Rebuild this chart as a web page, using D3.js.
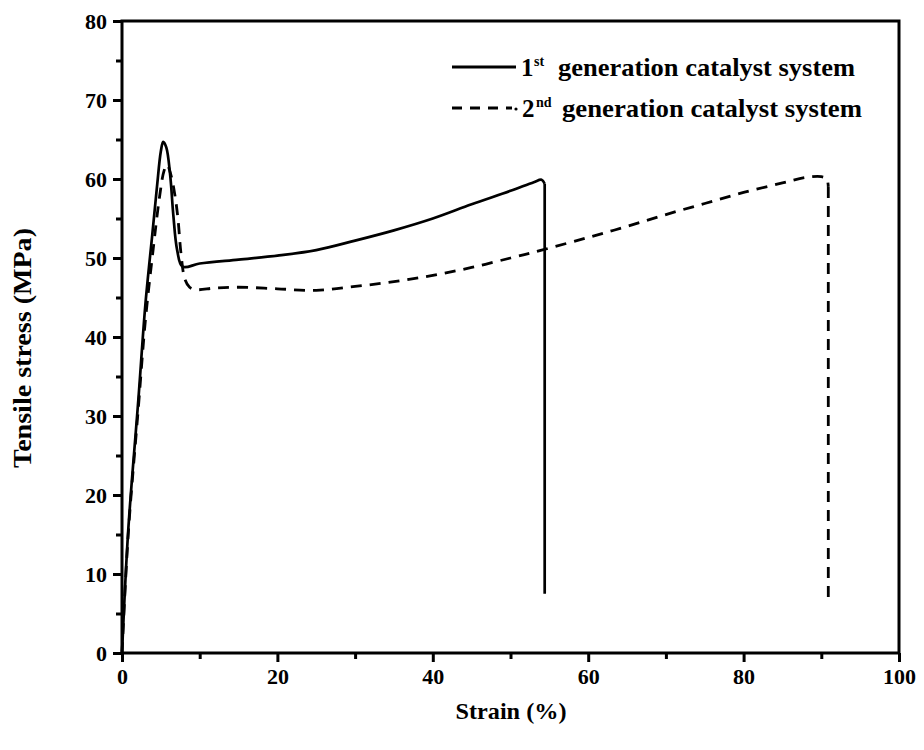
<!DOCTYPE html>
<html>
<head>
<meta charset="utf-8">
<script src="https://cdn.jsdelivr.net/npm/d3@7"></script>
<style>
  body { margin: 0; background: #fff; }
  text, tspan { font-family: "Liberation Serif", "Times New Roman", serif !important; font-weight: bold; fill: #000; }
</style>
</head>
<body>
<svg width="924" height="750"></svg>
<script>
// strain (%) and tensile stress (MPa)
var gen1Strain = [0, 0.8, 2.1, 3.0, 3.9, 4.5, 5.0, 5.3, 5.7, 6.2, 6.6, 7.1, 7.8, 10, 15, 20, 25, 30, 35, 40, 45, 50, 53, 54.0, 54.4, 54.4];
var gen1Stress = [0, 15.5, 32, 44, 53, 59, 63.5, 64.7, 64, 60.5, 55.5, 51, 48.9, 49.3, 49.8, 50.3, 51.0, 52.2, 53.5, 55.0, 56.8, 58.5, 59.6, 59.9, 59.4, 7.5];

var gen2Strain = [0, 0.8, 2.1, 3.0, 4.0, 4.8, 5.4, 5.8, 6.3, 6.8, 7.2, 7.6, 8.1, 8.7, 9.4, 12, 15, 20, 25, 30, 35, 40, 45, 50, 54, 60, 65, 70, 75, 80, 85, 88, 90, 90.7, 90.9, 90.9];
var gen2Stress = [0, 15, 31, 42, 51, 57.5, 61, 61.8, 60.5, 58, 55, 50.5, 47.3, 46.3, 46.0, 46.2, 46.3, 46.1, 45.9, 46.4, 47.0, 47.8, 48.8, 50.0, 51.0, 52.6, 54.0, 55.5, 56.9, 58.3, 59.5, 60.2, 60.3, 60.0, 59.0, 6.2];

var seriesNames = ["generation catalyst system", "generation catalyst system"];
var seriesNums = ["1", "2"];
var seriesSup = ["st", "nd"];

var xTicks = [0, 20, 40, 60, 80, 100];
var xMinor = [10, 30, 50, 70, 90];
var yTicks = [0, 10, 20, 30, 40, 50, 60, 70, 80];
var yMinor = [5, 15, 25, 35, 45, 55, 65, 75];

var FONT = "'Liberation Serif', 'Times New Roman', serif";

var svg = d3.select("svg"),
    margin = {top: 21, right: 25, bottom: 97, left: 122},
    width = svg.attr("width") - margin.left - margin.right,
    height = svg.attr("height") - margin.top - margin.bottom;

var x = d3.scaleLinear().domain([0, 100]).range([0, width]),
    y = d3.scaleLinear().domain([0, 80]).range([height, 0]);

var g = svg.append("g")
  .attr("transform", "translate(" + margin.left + "," + margin.top + ")");

function pairs(xs, ys) { return xs.map(function(v, i) { return [v, ys[i]]; }); }

var curve = d3.line()
  .x(function(d) { return x(d[0]); })
  .y(function(d) { return y(d[1]); })
  .curve(d3.curveCatmullRom.alpha(0.5));

var straight = d3.line()
  .x(function(d) { return x(d[0]); })
  .y(function(d) { return y(d[1]); });

// smooth body of the curve, then the straight fracture drop
function drawSeries(pts, dash, w) {
  var body = pts.slice(0, pts.length - 1),
      drop = pts.slice(pts.length - 2);
  g.append("path").datum(body)
    .attr("fill", "none").attr("stroke", "#000").attr("stroke-width", w)
    .attr("stroke-linejoin", "round").attr("stroke-dasharray", dash)
    .attr("d", curve);
  g.append("path").datum(drop)
    .attr("fill", "none").attr("stroke", "#000").attr("stroke-width", w)
    .attr("stroke-dasharray", dash)
    .attr("d", straight);
}

drawSeries(pairs(gen1Strain, gen1Stress), null, 2.7);
drawSeries(pairs(gen2Strain, gen2Stress), "11,8", 2.8);

// frame
g.append("rect")
  .attr("width", width).attr("height", height)
  .attr("fill", "none").attr("stroke", "#000").attr("stroke-width", 3);

g.append("g")
  .attr("transform", "translate(0," + height + ")")
  .call(d3.axisBottom(x).tickValues(xTicks).tickSize(9).tickPadding(6));
g.append("g")
  .attr("transform", "translate(0," + height + ")")
  .call(d3.axisBottom(x).tickValues(xMinor).tickSize(6).tickFormat(""));

g.append("g")
  .call(d3.axisLeft(y).tickValues(yTicks).tickSize(9).tickPadding(6));
g.append("g")
  .call(d3.axisLeft(y).tickValues(yMinor).tickSize(6).tickFormat(""));

g.selectAll(".domain").remove();
g.selectAll(".tick line").attr("stroke-width", 3);
g.selectAll(".tick text")
  .attr("font-family", FONT).attr("font-size", 22).attr("font-weight", "bold");

// axis titles
svg.append("text")
  .attr("x", 511).attr("y", 719)
  .attr("text-anchor", "middle")
  .attr("font-family", FONT).attr("font-size", 23)
  .attr("textLength", 111).attr("lengthAdjust", "spacingAndGlyphs")
  .text("Strain (%)");

svg.append("text")
  .attr("transform", "translate(31,348) rotate(-90)")
  .attr("text-anchor", "middle")
  .attr("font-family", FONT).attr("font-size", 25)
  .attr("textLength", 240).attr("lengthAdjust", "spacingAndGlyphs")
  .text("Tensile stress (MPa)");

// legend
var legend = g.append("g").attr("transform", "translate(330,46)");
[0, 1].forEach(function(i) {
  var row = legend.append("g").attr("transform", "translate(0," + (i * 41) + ")");
  row.append("line")
    .attr("x1", 0).attr("x2", i === 0 ? 64 : 60).attr("y1", 0).attr("y2", 0)
    .attr("stroke", "#000").attr("stroke-width", 2.8)
    .attr("stroke-dasharray", i === 0 ? null : "10,8");
  if (i === 1) {
    row.append("circle").attr("cx", 64).attr("cy", 1).attr("r", 1.6).attr("fill", "#000");
  }
  row.append("text").attr("x", 69 + i * 1).attr("y", 9)
    .attr("font-family", FONT).attr("font-size", 25)
    .text(seriesNums[i]);
  row.append("text").attr("x", 82 + i * 2).attr("y", -1)
    .attr("font-family", FONT).attr("font-size", 14)
    .text(seriesSup[i]);
  row.append("text").attr("x", 106 + i * 4).attr("y", 9)
    .attr("font-family", FONT).attr("font-size", 25)
    .attr("textLength", 297 + i * 3).attr("lengthAdjust", "spacingAndGlyphs")
    .text(seriesNames[i]);
});
</script>
</body>
</html>
